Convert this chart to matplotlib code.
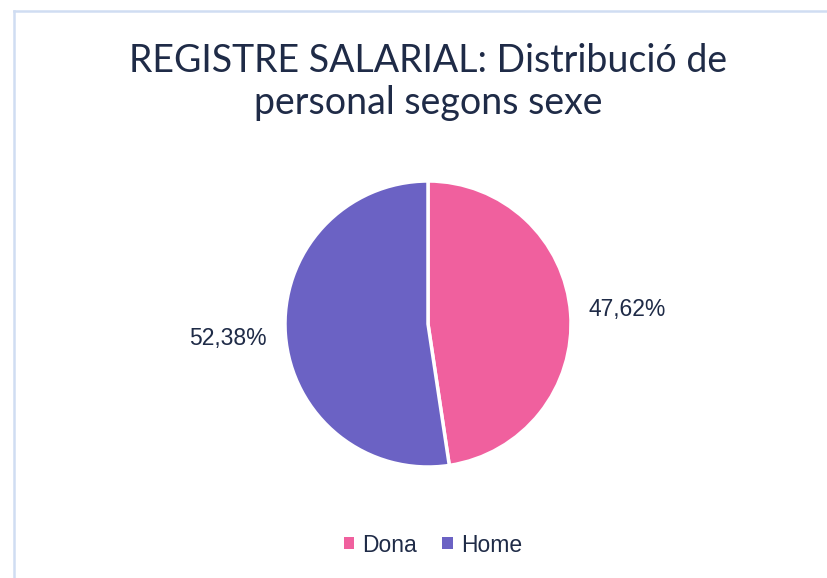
import matplotlib.pyplot as plt
from matplotlib.lines import Line2D
from matplotlib.patches import Patch

labels = ["Dona", "Home"]
values = [47.62, 52.38]
colors = ["#F0609E", "#6B62C4"]

W, H = 827, 578
fig = plt.figure(figsize=(W / 100, H / 100), dpi=100)
fig.patch.set_facecolor("white")

# light frame on left and top
border = "#D0DDF2"
fig.add_artist(Line2D([13.5 / W, 13.5 / W], [0, 1 - 10.5 / H], transform=fig.transFigure,
                      color=border, lw=1.8))
fig.add_artist(Line2D([13.5 / W, 1], [1 - 10.5 / H, 1 - 10.5 / H], transform=fig.transFigure,
                      color=border, lw=1.8))

fig.text(428 / W, 1 - 82 / H, "REGISTRE SALARIAL: Distribució de\npersonal segons sexe",
         ha="center", va="center", fontsize=27, color="#1F2B47",
         family=["Lato", "DejaVu Sans"], linespacing=1.22)

cx, cy, r = 428, 324, 143
ax = fig.add_axes([(cx - r) / W, (H - cy - r) / H, 2 * r / W, 2 * r / H])
wedges, texts = ax.pie(values, colors=colors, startangle=90, counterclock=False,
                       labels=[f"{v:.2f}".replace(".", ",") + "%" for v in values],
                       labeldistance=1.40,
                       wedgeprops=dict(edgecolor="white", linewidth=2.5),
                       textprops=dict(fontsize=16.5, color="#1F2B47",
                                      family=["Liberation Sans", "DejaVu Sans"]))
for t in texts:
    t.set_ha("center")
    t.set_va("center")
ax.set_xlim(-1, 1)
ax.set_ylim(-1, 1)

handles = [Patch(facecolor=c, edgecolor="none") for c in colors]
fig.legend(handles, labels, loc="center", bbox_to_anchor=(433 / W, 1 - 545 / H),
           ncol=2, frameon=False, handlelength=0.45, handleheight=0.45,
           handletextpad=0.35, columnspacing=1.1,
           prop=dict(family=["Liberation Sans", "DejaVu Sans"], size=16.5),
           labelcolor="#1F2B47")

fig.savefig("out.png", dpi=100)
